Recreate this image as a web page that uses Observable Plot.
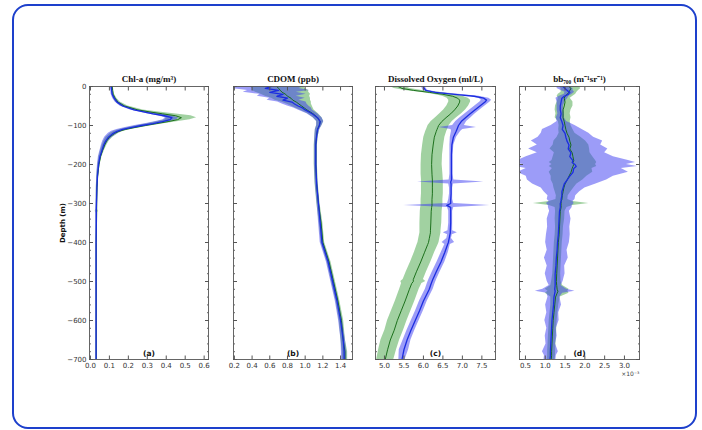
<!DOCTYPE html>
<html>
<head>
<meta charset="utf-8">
<script src="https://cdn.jsdelivr.net/npm/d3@7"></script>
<script src="https://cdn.jsdelivr.net/npm/@observablehq/plot@0.6"></script>
<style>
  html, body { margin: 0; padding: 0; background: #fff; }
  #wrap { position: relative; width: 702px; height: 430px; overflow: hidden; background: #fff; }
  #border { position: absolute; left: 12px; top: 4px; width: 685px; height: 425px; box-sizing: border-box;
            border: 2.5px solid #1d40cc; border-radius: 16px; }
  .panel { position: absolute; top: 60px; }
</style>
</head>
<body>
<div id="wrap"><div id="border"></div></div>
<script>
// ---------- data ----------
const titles = ["Chl-a (mg/m\u00b3)", "CDOM (ppb)", "Dissolved Oxygen (ml/L)", "bb\u2087\u2080\u2080 (m\u207b\u00b9sr\u207b\u00b9)"];
const panelLetters = ["(a)", "(b)", "(c)", "(d)"];
const yTicks = [0, -100, -200, -300, -400, -500, -600, -700];
const xTicksA = [0.0, 0.1, 0.2, 0.3, 0.4, 0.5, 0.6];
const xTicksB = [0.2, 0.4, 0.6, 0.8, 1.0, 1.2, 1.4];
const xTicksC = [5.0, 5.5, 6.0, 6.5, 7.0, 7.5];
const xTicksD = [0.5, 1.0, 1.5, 2.0, 2.5, 3.0];
const scaleNoteD = "\u00d710\u207b\u00b3";

// Panel (a) Chl-a
const depthA = [0,10,20,30,40,50,60,65,70,75,80,85,90,95,100,105,110,115,120,130,140,150,165,180,200,230,260,300,315,320,325,350,400,500,600,700];
const blueMeanA = [0.110,0.112,0.115,0.125,0.14,0.17,0.23,0.28,0.33,0.39,0.43,0.42,0.38,0.33,0.27,0.22,0.17,0.14,0.12,0.095,0.08,0.07,0.06,0.05,0.043,0.037,0.034,0.032,0.031,0.031,0.031,0.031,0.03,0.03,0.03,0.03];
const blueSdA = [0.005,0.005,0.006,0.008,0.01,0.015,0.02,0.025,0.03,0.035,0.035,0.035,0.035,0.035,0.035,0.035,0.03,0.028,0.025,0.02,0.015,0.012,0.01,0.008,0.006,0.004,0.003,0.003,0.003,0.003,0.003,0.003,0.002,0.002,0.002,0.002];
const greenMeanA = [0.115,0.117,0.12,0.13,0.145,0.18,0.25,0.31,0.38,0.45,0.48,0.46,0.41,0.35,0.29,0.235,0.185,0.15,0.128,0.1,0.085,0.075,0.063,0.053,0.045,0.038,0.035,0.033,0.033,0.033,0.033,0.032,0.031,0.031,0.031,0.031];
const greenSdA = [0.006,0.006,0.007,0.009,0.012,0.018,0.028,0.04,0.06,0.08,0.08,0.065,0.055,0.045,0.04,0.035,0.03,0.025,0.022,0.018,0.014,0.012,0.01,0.008,0.006,0.005,0.004,0.003,0.003,0.008,0.003,0.003,0.002,0.002,0.002,0.002];

// Panel (b) CDOM
const depthB = [0,5,10,15,20,25,30,35,40,45,50,55,60,70,80,90,100,110,125,150,200,250,300,350,400,450,500,550,600,650,680,700];
const blueMeanB = [0.62,0.55,0.70,0.60,0.75,0.68,0.80,0.75,0.85,0.88,0.92,0.97,1.00,1.08,1.14,1.17,1.16,1.14,1.13,1.12,1.12,1.13,1.15,1.17,1.19,1.26,1.31,1.36,1.40,1.43,1.44,1.44];
const blueSdB = [0.37,0.38,0.35,0.3,0.26,0.22,0.2,0.18,0.16,0.14,0.12,0.1,0.08,0.06,0.05,0.04,0.03,0.025,0.02,0.015,0.015,0.015,0.015,0.018,0.02,0.02,0.02,0.02,0.022,0.025,0.03,0.03];
const greenMeanB = [0.68,0.70,0.72,0.74,0.78,0.80,0.84,0.86,0.90,0.93,0.96,0.99,1.02,1.09,1.14,1.17,1.16,1.14,1.13,1.12,1.12,1.13,1.15,1.18,1.20,1.27,1.32,1.37,1.41,1.43,1.45,1.45];
const greenSdB = [0.3,0.3,0.32,0.3,0.28,0.25,0.22,0.2,0.17,0.14,0.12,0.1,0.08,0.06,0.05,0.04,0.03,0.025,0.02,0.018,0.018,0.018,0.018,0.02,0.02,0.022,0.022,0.022,0.025,0.025,0.03,0.03];

// Panel (c) Dissolved oxygen
const depthC = [0,5,10,15,20,25,30,35,40,50,60,70,80,90,100,105,110,115,130,150,175,200,225,240,245,250,260,275,290,300,305,310,320,350,370,375,380,390,400,405,425,450,475,495,500,505,520,550,575,600,625,650,675,700];
const greenMeanC = [5.35,5.45,5.75,6.15,6.5,6.75,6.88,6.93,6.93,6.88,6.8,6.7,6.58,6.47,6.39,6.37,6.35,6.33,6.28,6.25,6.22,6.21,6.22,6.23,6.23,6.23,6.23,6.23,6.22,6.22,6.22,6.21,6.2,6.19,6.18,6.18,6.17,6.15,6.13,6.11,6.03,5.93,5.82,5.74,5.74,5.7,5.64,5.53,5.43,5.33,5.25,5.15,5.08,5.02];
const greenSdC = [0.2,0.2,0.22,0.24,0.25,0.26,0.27,0.28,0.28,0.28,0.28,0.28,0.27,0.27,0.27,0.27,0.27,0.27,0.27,0.27,0.27,0.27,0.28,0.28,0.28,0.28,0.28,0.28,0.28,0.28,0.28,0.28,0.28,0.28,0.27,0.27,0.27,0.27,0.27,0.27,0.26,0.26,0.26,0.26,0.32,0.26,0.25,0.25,0.25,0.25,0.24,0.24,0.23,0.22];
const blueMeanC = [6.0,6.02,6.06,6.3,6.8,7.3,7.55,7.62,7.58,7.45,7.32,7.2,7.08,6.97,6.9,6.88,6.86,6.84,6.77,6.73,6.72,6.72,6.72,6.72,6.7,6.71,6.71,6.71,6.7,6.7,6.6,6.7,6.7,6.7,6.69,6.69,6.68,6.66,6.64,6.62,6.55,6.45,6.33,6.24,6.22,6.2,6.15,6.0,5.9,5.79,5.68,5.58,5.5,5.45];
const blueSdC = [0.05,0.05,0.06,0.08,0.1,0.12,0.13,0.13,0.13,0.13,0.13,0.13,0.14,0.14,0.15,0.48,0.15,0.12,0.08,0.05,0.04,0.04,0.04,0.06,0.85,0.06,0.04,0.04,0.05,0.08,1.1,0.08,0.05,0.05,0.06,0.18,0.06,0.06,0.16,0.07,0.09,0.1,0.1,0.1,0.1,0.1,0.1,0.1,0.1,0.1,0.1,0.1,0.12,0.08];

// Panel (d) bb700 (x10^-3)
const depthD = [0,5,10,15,20,25,30,40,50,60,70,80,90,100,110,120,130,140,150,160,170,180,190,195,200,205,210,220,230,240,250,260,270,280,290,295,300,305,310,320,340,360,380,400,420,440,460,480,500,510,520,525,530,540,560,580,600,620,640,660,680,690,700];
const blueMeanD = [1.45,1.5,1.55,1.62,1.58,1.48,1.42,1.4,1.38,1.38,1.4,1.38,1.42,1.45,1.43,1.5,1.52,1.55,1.6,1.58,1.65,1.62,1.7,1.68,1.75,1.78,1.72,1.7,1.62,1.55,1.48,1.45,1.42,1.42,1.4,1.4,1.38,1.38,1.38,1.36,1.35,1.34,1.33,1.31,1.3,1.28,1.27,1.25,1.25,1.25,1.24,1.25,1.24,1.22,1.21,1.19,1.17,1.16,1.15,1.14,1.13,1.13,1.12];
const blueSdD = [0.15,0.2,0.15,0.12,0.1,0.12,0.15,0.1,0.08,0.08,0.08,0.1,0.12,0.3,0.5,0.6,0.7,0.9,0.8,1.0,0.85,1.1,1.4,1.6,1.3,1.55,1.2,1.4,1.1,1.0,0.8,0.55,0.45,0.35,0.35,0.3,0.35,0.3,0.3,0.25,0.3,0.28,0.3,0.3,0.25,0.3,0.22,0.25,0.2,0.15,0.3,0.5,0.2,0.15,0.2,0.15,0.18,0.12,0.15,0.12,0.2,0.15,0.15];
const greenMeanD = [1.6,1.65,1.62,1.6,1.55,1.5,1.48,1.5,1.48,1.45,1.45,1.45,1.48,1.5,1.52,1.55,1.6,1.62,1.65,1.62,1.68,1.7,1.72,1.7,1.72,1.7,1.68,1.65,1.6,1.55,1.5,1.47,1.45,1.43,1.42,1.4,1.4,1.4,1.4,1.38,1.37,1.36,1.35,1.33,1.32,1.31,1.3,1.29,1.28,1.29,1.3,1.32,1.3,1.26,1.24,1.22,1.2,1.19,1.18,1.17,1.16,1.16,1.15];
const greenSdD = [0.25,0.25,0.22,0.2,0.22,0.2,0.15,0.2,0.22,0.2,0.18,0.2,0.15,0.15,0.18,0.2,0.3,0.4,0.45,0.5,0.45,0.5,0.55,0.6,0.55,0.6,0.5,0.55,0.45,0.4,0.3,0.25,0.2,0.15,0.15,0.3,0.7,0.3,0.15,0.12,0.12,0.1,0.1,0.1,0.1,0.1,0.1,0.1,0.12,0.15,0.3,0.25,0.3,0.12,0.1,0.1,0.1,0.1,0.1,0.1,0.1,0.1,0.1];

// ---------- layout ----------
const panels = [
  {depth: depthA, bm: blueMeanA, bs: blueSdA, gm: greenMeanA, gs: greenSdA, xTicks: xTicksA, domain: [-0.005, 0.623], left: 39, mL: 50, mR: 8, frameW: 119, yLabels: true},
  {depth: depthB, bm: blueMeanB, bs: blueSdB, gm: greenMeanB, gs: greenSdB, xTicks: xTicksB, domain: [0.19, 1.535], left: 223, mL: 10, mR: 10, frameW: 119},
  {depth: depthC, bm: blueMeanC, bs: blueSdC, gm: greenMeanC, gs: greenSdC, xTicks: xTicksC, domain: [4.77, 7.85], left: 365, mL: 10, mR: 10, frameW: 120},
  {depth: depthD, bm: blueMeanD, bs: blueSdD, gm: greenMeanD, gs: greenSdD, xTicks: xTicksD, domain: [0.35, 3.38], left: 509, mL: 10, mR: 20, frameW: 120, note: scaleNoteD}
];

const mT = 26, mB = 30, frameH = 273;
const yMinor = d3.range(-700, 1, 20);
const fmtY = d => d === 0 ? "0" : "\u2212" + Math.abs(d);
const blank = () => "";
const wrap = document.getElementById("wrap");

panels.forEach((p, k) => {
  const blue = p.depth.map((d, i) => ({z: -d, m: p.bm[i], s: p.bs[i]}));
  const green = p.depth.map((d, i) => ({z: -d, m: p.gm[i], s: p.gs[i]}));
  const marks = [
    Plot.areaX(green, {y: "z", x1: d => d.m - d.s, x2: d => d.m + d.s, fill: "#2f9a2f", fillOpacity: 0.45, clip: true}),
    Plot.areaX(blue, {y: "z", x1: d => d.m - d.s, x2: d => d.m + d.s, fill: "#3a3af2", fillOpacity: 0.5, clip: true}),
    Plot.lineX(green, {x: "m", y: "z", stroke: "#0d650d", strokeWidth: 0.9, clip: true}),
    Plot.lineX(blue, {x: "m", y: "z", stroke: "#1b2de0", strokeWidth: 1.3, clip: true}),
    Plot.frame({stroke: "#555", strokeWidth: 0.9}),
    Plot.axisX({anchor: "bottom", ticks: p.xTicks, tickSize: -3.5, tickFormat: blank, label: null, stroke: "#555"}),
    Plot.axisX({anchor: "top", ticks: p.xTicks, tickSize: -3.5, tickFormat: blank, label: null, stroke: "#555"}),
    Plot.axisX({anchor: "bottom", ticks: p.xTicks, tickSize: 0, tickPadding: 4, tickFormat: d3.format(".1f"), label: null, fill: "#333"}),
    Plot.axisY({anchor: "left", ticks: yMinor, tickSize: -2, tickFormat: blank, label: null, stroke: "#666"}),
    Plot.axisY({anchor: "right", ticks: yMinor, tickSize: -2, tickFormat: blank, label: null, stroke: "#666"}),
    Plot.axisY({anchor: "left", ticks: yTicks, tickSize: -4, tickFormat: blank, label: null, stroke: "#555"}),
    Plot.axisY({anchor: "right", ticks: yTicks, tickSize: -4, tickFormat: blank, label: null, stroke: "#555"}),
    Plot.text([titles[k]], {frameAnchor: "top", dy: -5, lineAnchor: "bottom", fontFamily: "Liberation Serif", fontWeight: "bold", fontSize: 9, fill: "#111"}),
    Plot.text([panelLetters[k]], {frameAnchor: "bottom", dy: -4, lineAnchor: "bottom", fontFamily: "DejaVu Sans", fontWeight: "bold", fontSize: 7.5, fill: "#111"})
  ];
  if (p.yLabels) {
    marks.push(Plot.axisY({anchor: "left", ticks: yTicks, tickSize: 0, tickPadding: 3, tickFormat: fmtY, label: null, fill: "#333"}));
    marks.push(Plot.text(["Depth (m)"], {frameAnchor: "left", dx: -27, rotate: -90, textAnchor: "middle", fontFamily: "DejaVu Sans", fontWeight: "bold", fontSize: 7, fill: "#111"}));
  }
  if (p.note) {
    marks.push(Plot.text([p.note], {frameAnchor: "bottom-right", dy: 12, textAnchor: "end", lineAnchor: "top", fontFamily: "DejaVu Sans", fontSize: 6, fill: "#444"}));
  }
  const chart = Plot.plot({
    width: p.mL + p.frameW + p.mR,
    height: mT + frameH + mB,
    marginLeft: p.mL, marginRight: p.mR, marginTop: mT, marginBottom: mB,
    x: {domain: p.domain, label: null},
    y: {domain: [-700, 0], label: null},
    style: {fontFamily: "DejaVu Sans", fontSize: "7px", background: "transparent", overflow: "visible"},
    marks
  });
  const holder = document.createElement("div");
  holder.className = "panel";
  holder.style.left = p.left + "px";
  holder.appendChild(chart);
  wrap.appendChild(holder);
});
</script>
</body>
</html>
